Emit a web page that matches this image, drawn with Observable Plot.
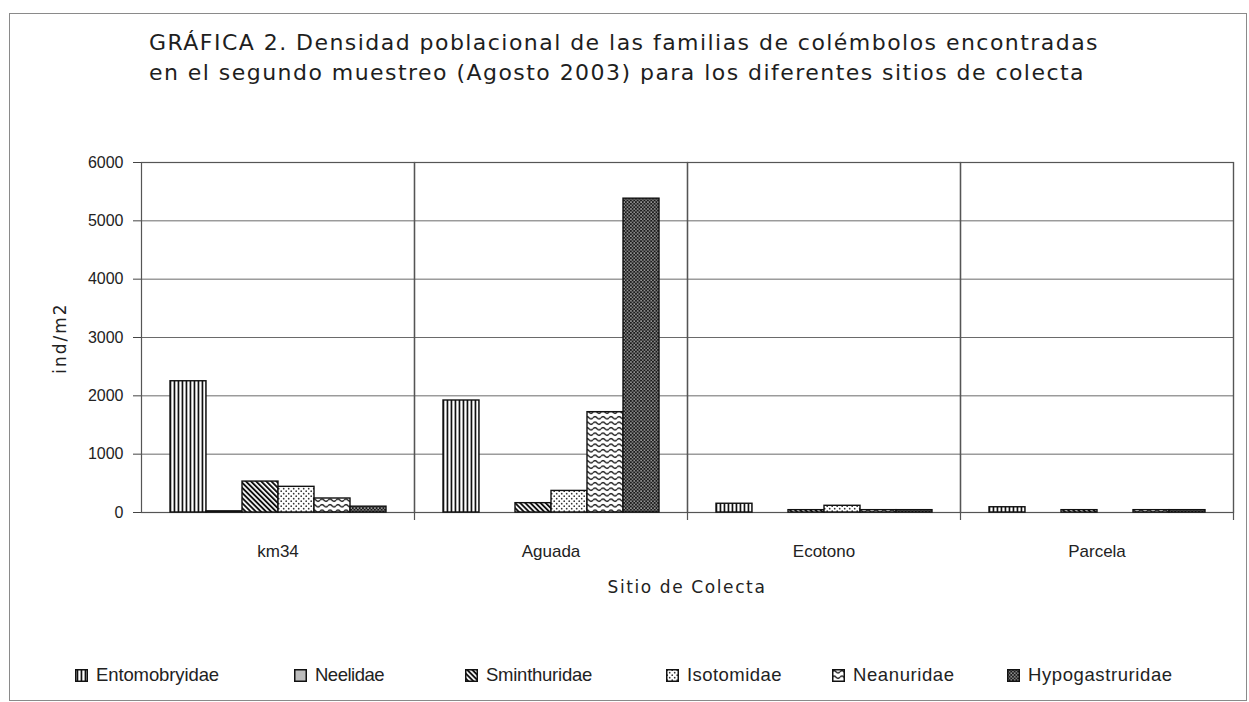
<!DOCTYPE html>
<html><head><meta charset="utf-8">
<script src="https://cdn.jsdelivr.net/npm/d3@7"></script>
<script src="https://cdn.jsdelivr.net/npm/@observablehq/plot@0.6"></script>
<style>
body{margin:0;background:#fff;}
#wrap{position:relative;width:1249px;height:702px;overflow:hidden;background:#fff;}
#frame{position:absolute;left:9px;top:13px;width:1238px;height:688px;border:1.5px solid #8a8a8a;box-sizing:border-box;}
.tl{position:absolute;left:149px;font-family:"DejaVu Sans",sans-serif;font-size:22px;color:#1e1e1e;white-space:nowrap;}
#chart{position:absolute;left:0;top:140px;}
#ylab{position:absolute;left:-38px;top:328px;width:196px;text-align:center;transform:rotate(-90deg);font-family:"DejaVu Sans",sans-serif;font-size:17px;letter-spacing:2px;color:#222;}
#xlab{position:absolute;left:487px;top:577px;width:400px;text-align:center;font-family:"DejaVu Sans",sans-serif;font-size:17px;letter-spacing:1.6px;color:#222;}
.lg{position:absolute;top:663px;height:24px;display:flex;align-items:center;font-family:"Liberation Sans",Arial,sans-serif;font-size:18.5px;color:#222;white-space:nowrap;}
.lg svg{margin-right:8px;}
</style></head>
<body>
<div id="wrap">
  <svg id="defs" width="0" height="0" style="position:absolute;left:0;top:0">
    <defs>
      <pattern id="p-ent" width="4" height="4" patternUnits="userSpaceOnUse">
        <rect width="4" height="4" fill="#fff"/><rect x="1.6" width="1.7" height="4" fill="#111"/>
      </pattern>
      <pattern id="p-nee" width="4" height="4" patternUnits="userSpaceOnUse">
        <rect width="4" height="4" fill="#bdbdbd"/>
      </pattern>
      <pattern id="p-smi" width="3.6" height="4" patternUnits="userSpaceOnUse" patternTransform="rotate(-45)">
        <rect width="3.6" height="4" fill="#fff"/><rect x="0" width="1.9" height="4" fill="#111"/>
      </pattern>
      <pattern id="p-iso" width="5" height="5" patternUnits="userSpaceOnUse">
        <rect width="5" height="5" fill="#fff"/><circle cx="1.2" cy="1.2" r="0.85" fill="#333"/><circle cx="3.7" cy="3.7" r="0.85" fill="#333"/>
      </pattern>
      <pattern id="p-nea" width="8" height="5.5" patternUnits="userSpaceOnUse">
        <rect width="8" height="5.5" fill="#fff"/><path d="M0,2.75 Q2,0.6 4,2.75 T8,2.75" fill="none" stroke="#111" stroke-width="1.3"/>
      </pattern>
      <pattern id="p-hyp" width="3.4" height="3.4" patternUnits="userSpaceOnUse">
        <rect width="3.4" height="3.4" fill="#1a1a1a"/><rect x="0.3" y="0.3" width="1.2" height="1.2" fill="#fff"/><rect x="2" y="2" width="1.1" height="1.1" fill="#fff"/>
      </pattern>
    </defs>
  </svg>
  <div id="frame"></div>
  <div class="tl" id="t1" style="top:30px">GRÁFICA 2. Densidad poblacional de las familias de colémbolos encontradas</div>
  <div class="tl" id="t2" style="top:60px">en el segundo muestreo (Agosto 2003) para los diferentes sitios de colecta</div>
  <div id="chart"></div>
  <div id="ylab">ind/m2</div>
  <div id="xlab">Sitio de Colecta</div>
  <div id="legend"></div>
</div>
<script>
// ---- data ----
const sites = ["km34", "Aguada", "Ecotono", "Parcela"];
const families = ["Entomobryidae", "Neelidae", "Sminthuridae", "Isotomidae", "Neanuridae", "Hypogastruridae"];
const km34Values    = [2250, 20, 530, 440, 240, 100];
const aguadaValues  = [1920, 0, 160, 370, 1720, 5380];
const ecotonoValues = [150, 0, 40, 115, 40, 40];
const parcelaValues = [90, 0, 40, 0, 40, 40];
const yTicks = [0, 1000, 2000, 3000, 4000, 5000, 6000];
const patternIds = ["p-ent", "p-nee", "p-smi", "p-iso", "p-nea", "p-hyp"];

const seriesBySite = [km34Values, aguadaValues, ecotonoValues, parcelaValues];
const data = [];
sites.forEach((s, i) => families.forEach((f, j) => data.push({site: s, family: f, value: seriesBySite[i][j]})));
const fillOf = f => `url(#${patternIds[families.indexOf(f)]})`;

const chart = Plot.plot({
  width: 1249, height: 470,
  marginLeft: 141, marginRight: 16, marginTop: 22, marginBottom: 98,
  style: {fontFamily: "'Liberation Sans', Arial, sans-serif", fontSize: "16px", color: "#222", background: "transparent", overflow: "visible"},
  fx: {domain: sites, padding: 0, label: null, axis: null},
  x: {domain: families, axis: null, paddingInner: 0, paddingOuter: 0.74},
  y: {domain: [0, 6000], label: null, axis: null},
  color: {type: "identity"},
  marks: [
    Plot.gridY(yTicks, {stroke: "#6a6a6a", strokeOpacity: 1, strokeWidth: 1}),
    Plot.frame({stroke: "#555", strokeWidth: 1.2}),
    Plot.frame({anchor: "right", stroke: "#555", strokeWidth: 1.2, insetBottom: -7}),
    Plot.barY(data, {fx: "site", x: "family", y: "value", fill: d => fillOf(d.family), stroke: "#111", strokeWidth: 1.4}),
    Plot.axisY(yTicks, {tickSize: 8, tickPadding: 10, fontSize: 16, label: null, stroke: "#444", tickFormat: d => String(d)}),
    Plot.axisFx({anchor: "bottom", tickSize: 0, tickPadding: 32, fontSize: 17, label: null})
  ]
});
document.getElementById("chart").appendChild(chart);

// legend
const lgLeft = [75, 294, 465, 666, 832, 1007];
const lgTextWidth = [123, 69, 106, 95, 120, 178];
const legend = document.getElementById("legend");
families.forEach((f, i) => {
  const d = document.createElement("div");
  d.className = "lg";
  d.style.left = lgLeft[i] + "px";
  d.innerHTML = `<svg width="13" height="13"><rect x="0.75" y="0.75" width="11.5" height="11.5" fill="${fillOf(f)}" stroke="#111" stroke-width="1.5"/></svg><span>${f}</span>`;
  legend.appendChild(d);
  const sp = d.querySelector("span");
  const w = sp.getBoundingClientRect().width;
  const ls = Math.max(-0.5, Math.min(0.6, (lgTextWidth[i] - w) / f.length));
  sp.style.letterSpacing = ls + "px";
});

// fit title line widths
function fit(id, target) {
  const el = document.getElementById(id);
  const n = el.textContent.length;
  const w = el.getBoundingClientRect().width;
  el.style.letterSpacing = ((target - w) / n) + "px";
}
fit("t1", 950);
fit("t2", 936);
</script>
</body></html>
